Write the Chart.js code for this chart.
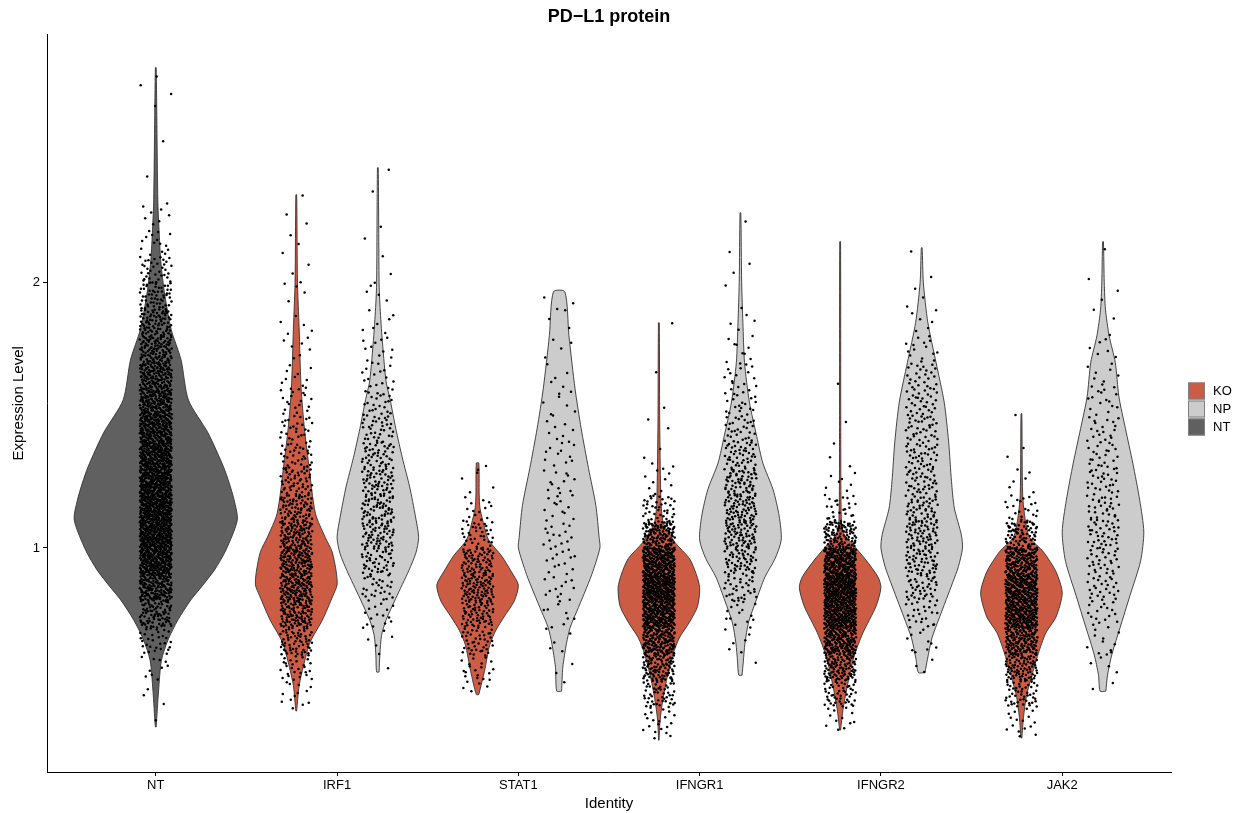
<!DOCTYPE html>
<html><head><meta charset="utf-8">
<script src="https://cdn.jsdelivr.net/npm/chart.js@4.4.1/dist/chart.umd.min.js"></script>
<style>html,body{margin:0;padding:0;background:#fff}canvas{display:block}</style>
</head><body>
<canvas id="c" width="1236" height="813"></canvas>
<script>
// ---- categories / groups / ticks ----
const categories = ['NT','IRF1','STAT1','IFNGR1','IFNGR2','JAK2'];
const groups = ['KO','NP','NT'];
const yTicks = [1, 2];

// ---- violin outlines: expression levels and relative density widths ----
const NT_NT_levels = [0.325,0.464,0.577,0.653,0.728,0.804,0.853,0.917,0.992,1.106,1.181,1.245,1.306,1.434,1.558,1.709,1.823,1.936,2.0,2.087,2.2,2.313,2.811];
const NT_NT_widths = [0.005,0.035,0.07,0.15,0.27,0.43,0.56,0.72,0.86,1.0,0.96,0.9,0.83,0.64,0.40,0.31,0.19,0.12,0.09,0.06,0.04,0.025,0.005];
const IRF1_KO_levels = [0.385,0.48,0.57,0.645,0.728,0.82,0.86,0.91,0.985,1.04,1.13,1.32,1.45,1.6,1.83,2.0,2.332];
const IRF1_KO_widths = [0.01,0.07,0.2,0.34,0.64,0.9,1.0,0.98,0.88,0.71,0.47,0.3,0.2,0.12,0.07,0.03,0.01];
const IRF1_NP_levels = [0.532,0.6,0.67,0.728,0.81,0.915,0.98,1.04,1.12,1.23,1.34,1.45,1.56,1.63,1.8,1.92,2.0,2.434];
const IRF1_NP_widths = [0.03,0.05,0.09,0.2,0.44,0.76,0.93,1.0,0.92,0.78,0.6,0.44,0.3,0.2,0.1,0.05,0.03,0.01];
const STAT1_KO_levels = [0.447,0.535,0.635,0.69,0.74,0.8,0.86,0.91,0.97,1.03,1.09,1.15,1.2,1.32];
const STAT1_KO_widths = [0.03,0.17,0.3,0.45,0.65,0.9,1.0,0.83,0.59,0.27,0.15,0.06,0.04,0.03];
const STAT1_NP_levels = [0.46,0.55,0.64,0.7,0.76,0.83,0.9,1.0,1.04,1.16,1.3,1.45,1.6,1.8,1.966];
const STAT1_NP_widths = [0.06,0.09,0.18,0.27,0.43,0.62,0.8,1.0,0.98,0.9,0.72,0.54,0.39,0.24,0.14];
const IFNGR1_KO_levels = [0.275,0.35,0.42,0.51,0.6,0.66,0.72,0.78,0.85,0.9,0.96,1.02,1.09,1.15,1.25,1.5,1.849];
const IFNGR1_KO_widths = [0.005,0.03,0.09,0.2,0.35,0.5,0.75,0.95,1.0,0.92,0.75,0.4,0.12,0.06,0.04,0.02,0.01];
const IFNGR1_NP_levels = [0.52,0.57,0.64,0.72,0.8,0.89,0.96,1.03,1.12,1.22,1.32,1.42,1.55,1.7,1.85,2.0,2.264];
const IFNGR1_NP_widths = [0.04,0.07,0.11,0.2,0.38,0.6,0.85,1.0,0.95,0.8,0.55,0.4,0.22,0.1,0.06,0.03,0.01];
const IFNGR2_KO_levels = [0.313,0.39,0.475,0.59,0.68,0.78,0.85,0.89,0.955,1.02,1.05,1.1,1.5,2.155];
const IFNGR2_KO_widths = [0.01,0.07,0.17,0.34,0.56,0.88,1.0,0.93,0.63,0.27,0.1,0.03,0.015,0.01];
const IFNGR2_NP_levels = [0.53,0.58,0.66,0.74,0.87,0.93,1.0,1.05,1.15,1.25,1.4,1.55,1.7,1.85,2.0,2.132];
const IFNGR2_NP_widths = [0.08,0.14,0.25,0.44,0.76,0.9,1.0,0.97,0.8,0.73,0.66,0.55,0.35,0.15,0.04,0.01];
const JAK2_KO_levels = [0.283,0.36,0.44,0.51,0.6,0.68,0.74,0.83,0.91,0.985,1.04,1.1,1.2,1.506];
const JAK2_KO_widths = [0.01,0.05,0.12,0.24,0.41,0.6,0.85,1.0,0.85,0.54,0.2,0.1,0.03,0.01];
const JAK2_NP_levels = [0.46,0.52,0.6,0.7,0.82,0.95,1.06,1.18,1.32,1.45,1.57,1.7,1.8,1.9,2.0,2.155];
const JAK2_NP_widths = [0.07,0.11,0.22,0.42,0.66,0.92,1.0,0.9,0.73,0.55,0.39,0.3,0.15,0.06,0.03,0.01];

// ---- cell counts per expression bin (bin start values) ----
const pointBins = [0.2,0.3,0.4,0.5,0.6,0.7,0.8,0.9,1.0,1.1,1.2,1.3,1.4,1.5,1.6,1.7,1.8,1.9,2.0,2.1,2.2,2.3,2.4,2.5,2.6,2.7,2.8];
const NT_NT_counts    = [0,1,3,10,30,80,150,220,250,250,240,220,200,170,140,110,80,55,35,15,8,0,1,1,1,3,0];
const IRF1_KO_counts  = [0,1,12,30,60,100,130,130,105,75,50,35,26,18,11,7,5,4,3,3,2,1,0,0,0,0,0];
const IRF1_NP_counts  = [0,0,0,1,6,14,28,45,60,60,55,45,34,24,16,11,7,4,3,1,1,1,1,0,0,0,0];
const STAT1_KO_counts = [0,0,5,20,40,65,85,70,35,14,5,1,0,0,0,0,0,0,0,0,0,0,0,0,0,0,0];
const STAT1_NP_counts = [0,0,1,2,5,9,12,14,14,13,12,11,9,7,5,4,3,3,0,0,0,0,0,0,0,0,0];
const IFNGR1_KO_counts= [2,18,50,95,150,220,250,215,125,38,10,4,2,1,1,0,1,0,0,0,0,0,0,0,0,0,0];
const IFNGR1_NP_counts= [0,0,0,1,6,15,32,55,70,70,60,44,30,22,15,9,4,2,2,1,1,0,0,0,0,0,0];
const IFNGR2_KO_counts= [0,12,50,100,160,220,250,210,100,25,7,3,1,0,1,0,0,0,0,0,0,0,0,0,0,0,0];
const IFNGR2_NP_counts= [0,0,0,3,10,24,40,54,58,48,40,37,34,30,24,15,6,3,1,1,0,0,0,0,0,0,0];
const JAK2_KO_counts  = [2,14,50,85,135,195,210,160,75,22,6,2,0,1,0,0,0,0,0,0,0,0,0,0,0,0,0];
const JAK2_NP_counts  = [0,0,2,5,10,18,25,30,32,30,26,22,18,14,10,6,3,2,1,1,0,0,0,0,0,0,0];

// ---- styling ----
const FONT = '"Liberation Sans", Arial, Helvetica, sans-serif';
const COLORS = {KO:'#CD5C45', NP:'#CCCCCC', NT:'#606060'};

const violins = [
  ['NT','NT',NT_NT_levels,NT_NT_widths,NT_NT_counts],
  ['IRF1','KO',IRF1_KO_levels,IRF1_KO_widths,IRF1_KO_counts],
  ['IRF1','NP',IRF1_NP_levels,IRF1_NP_widths,IRF1_NP_counts],
  ['STAT1','KO',STAT1_KO_levels,STAT1_KO_widths,STAT1_KO_counts],
  ['STAT1','NP',STAT1_NP_levels,STAT1_NP_widths,STAT1_NP_counts],
  ['IFNGR1','KO',IFNGR1_KO_levels,IFNGR1_KO_widths,IFNGR1_KO_counts],
  ['IFNGR1','NP',IFNGR1_NP_levels,IFNGR1_NP_widths,IFNGR1_NP_counts],
  ['IFNGR2','KO',IFNGR2_KO_levels,IFNGR2_KO_widths,IFNGR2_KO_counts],
  ['IFNGR2','NP',IFNGR2_NP_levels,IFNGR2_NP_widths,IFNGR2_NP_counts],
  ['JAK2','KO',JAK2_KO_levels,JAK2_KO_widths,JAK2_KO_counts],
  ['JAK2','NP',JAK2_NP_levels,JAK2_NP_widths,JAK2_NP_counts]
];

function slot(cat, grp){
  const base = categories.indexOf(cat);
  if (grp === 'NT') return {c: base, hw: 0.45};
  return {c: base + (grp === 'KO' ? -0.225 : 0.225), hw: 0.225};
}
// deterministic, evenly spread placement of points inside a bin (Halton layout)
function halton(i, b){ let f = 1, r = 0; while (i > 0){ f /= b; r += f * (i % b); i = Math.floor(i / b); } return r; }
const JITTER = 0.088;

const violinSets = [], pointSets = [];
violins.forEach(([cat, grp, lv, wd, cnt], vi) => {
  const {c, hw} = slot(cat, grp);
  const poly = [];
  for (let i = 0; i < lv.length; i++) poly.push({x: c + wd[i]*hw, y: lv[i]});
  for (let i = lv.length - 1; i >= 0; i--) poly.push({x: c - wd[i]*hw, y: lv[i]});
  poly.push({x: poly[0].x, y: poly[0].y});
  violinSets.push({
    type: 'scatter', data: poly, showLine: true, fill: 'shape',
    backgroundColor: COLORS[grp], borderColor: '#333333', borderWidth: 0.9,
    pointRadius: 0, tension: 0.25, order: 2
  });
  const lo = lv[0], hi = lv[lv.length - 1];
  const pts = [];
  let k = 1 + vi * 37;
  cnt.forEach((n, b) => {
    const y0 = Math.max(pointBins[b], lo), y1 = Math.min(pointBins[b] + 0.1, hi);
    for (let j = 0; j < n; j++, k++) {
      pts.push({
        x: c + (halton(k, 2) - 0.5) * 2 * JITTER,
        y: y0 + halton(k, 3) * Math.max(0, y1 - y0)
      });
    }
  });
  pointSets.push({
    type: 'scatter', data: pts, showLine: false,
    pointRadius: 1.25, pointBackgroundColor: '#000', pointBorderWidth: 0, order: 1
  });
});

const legendPlugin = {
  id: 'vlegend',
  afterDraw(chart){
    const ctx = chart.ctx;
    const x = chart.chartArea.right + 17, y0 = 382.5;
    ctx.save();
    ctx.font = '13px ' + FONT;
    ctx.textBaseline = 'middle';
    groups.forEach((g, i) => {
      const y = y0 + i*18;
      ctx.fillStyle = COLORS[g];
      ctx.fillRect(x, y, 17, 17);
      ctx.strokeStyle = '#7f7f7f'; ctx.lineWidth = 1;
      ctx.strokeRect(x+0.5, y+0.5, 16, 16);
      ctx.fillStyle = '#000';
      ctx.fillText(g, x + 25, y + 9);
    });
    ctx.restore();
  }
};

new Chart(document.getElementById('c'), {
  type: 'scatter',
  data: { datasets: [...pointSets, ...violinSets] },
  options: {
    responsive: false, animation: false, devicePixelRatio: 1,
    layout: { padding: {left: 0, right: 65, top: 0, bottom: 0} },
    plugins: {
      legend: {display: false}, tooltip: {enabled: false},
      title: { display: true, text: 'PD\u2212L1 protein', color: '#000', fullSize: false,
               font: {family: FONT, size: 18, weight: 'bold'}, padding: {top: 6, bottom: 7} }
    },
    scales: {
      x: {
        type: 'linear', min: -0.6, max: 5.6,
        afterBuildTicks: s => { s.ticks = categories.map((_, i) => ({value: i})); },
        afterFit: s => { s.height = 41; },
        ticks: { callback: v => categories[Math.round(v)], color: '#000', padding: 2,
                 autoSkip: false, maxRotation: 0, font: {family: FONT, size: 13} },
        grid: { drawOnChartArea: false, drawTicks: true, tickLength: 4, tickColor: '#000', tickWidth: 1 },
        border: { display: true, color: '#000', width: 1 },
        title: { display: true, text: 'Identity', color: '#000', font: {family: FONT, size: 15},
                 padding: {top: 0, bottom: 0} }
      },
      y: {
        type: 'linear', min: 0.155, max: 2.936,
        afterBuildTicks: s => { s.ticks = yTicks.map(v => ({value: v})); },
        afterFit: s => { s.width = 47; },
        ticks: { color: '#000', padding: 3, font: {family: FONT, size: 13} },
        grid: { drawOnChartArea: false, drawTicks: true, tickLength: 4, tickColor: '#000', tickWidth: 1 },
        border: { display: true, color: '#000', width: 1 },
        title: { display: true, text: 'Expression Level', color: '#000', font: {family: FONT, size: 15},
                 padding: {top: 10, bottom: 0} }
      }
    }
  },
  plugins: [legendPlugin]
});
</script>
</body></html>
